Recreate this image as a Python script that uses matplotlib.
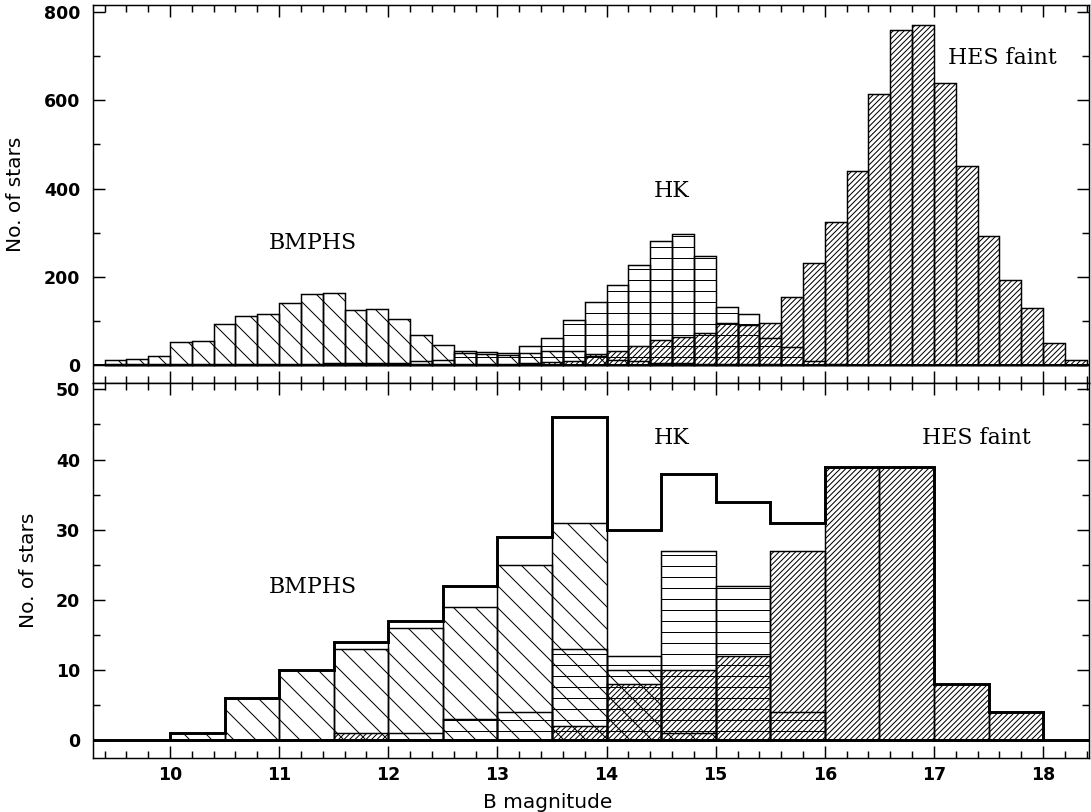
import numpy as np
import matplotlib
matplotlib.use('Agg')
import matplotlib.pyplot as plt
from matplotlib.ticker import MultipleLocator

# upper panel: 0.2 mag bins starting at B = 9.4
top_left = np.round(np.arange(9.4, 18.35, 0.2), 2)
top_bmphs = [11, 14, 21, 52, 55, 92, 110, 116, 141, 161, 164, 124, 127, 104, 67, 46,
             32, 25, 22, 28, 32, 32, 20, 12, 8, 5, 4, 3, 2, 1, 1,
             0, 0, 0, 0, 0, 0, 0, 0, 0, 0, 0, 0, 0, 0]
top_hk = [2, 2, 3, 2, 3, 2, 3, 3, 3, 3, 4, 4, 5, 5, 8, 12,
          26, 30, 28, 44, 60, 102, 142, 182, 227, 282, 297, 246, 132, 116, 60,
          40, 10, 2, 0, 0, 0, 0, 0, 0, 0, 0, 0, 0, 0]
top_hes = [0, 0, 0, 0, 0, 0, 0, 0, 0, 0, 0, 0, 0, 1, 1, 2,
           2, 3, 3, 4, 6, 8, 24, 32, 44, 57, 63, 72, 96, 90, 94,
           154, 232, 325, 439, 614, 759, 771, 640, 451, 292, 193, 130, 50, 11]

# lower panel: 0.5 mag bins
bot_left = [10.0, 10.5, 11.0, 11.5, 12.0, 12.5, 13.0, 13.5,
            14.0, 14.5, 15.0, 15.5, 16.0, 16.5, 17.0, 17.5]
bot_bmphs = [1, 6, 10, 13, 16, 19, 25, 31, 10, 1, 0, 0, 0, 0, 0, 0]
bot_hk = [0, 0, 0, 0, 1, 3, 4, 13, 12, 27, 22, 4, 0, 0, 0, 0]
bot_hes = [0, 0, 0, 1, 0, 0, 0, 2, 8, 10, 12, 27, 39, 39, 8, 4]
bot_total = [1, 6, 10, 14, 17, 22, 29, 46, 30, 38, 34, 31, 39, 39, 8, 4]

plt.rcParams['hatch.linewidth'] = 0.55
plt.rcParams['axes.linewidth'] = 0.8

DPI = 132
fig = plt.figure(figsize=(1091 / DPI, 812 / DPI), dpi=DPI)
ax1 = fig.add_axes([0.0852, 0.5283, 0.9129, 0.4655])
ax2 = fig.add_axes([0.0852, 0.0665, 0.9129, 0.4618])

bar_kw = dict(align='edge', fill=False, edgecolor='black', linewidth=0.8)
H_BM = '\\\\'
H_HK = '--'
H_HES = '////////'

# upper panel, histograms overlaid
ax1.bar(top_left, top_bmphs, width=0.2, hatch=H_BM, **bar_kw)
ax1.bar(top_left, top_hk, width=0.2, hatch=H_HK, **bar_kw)
ax1.bar(top_left, top_hes, width=0.2, hatch=H_HES, **bar_kw)
ax1.axhline(0, color='black', lw=1.1)

# lower panel
ax2.bar(bot_left, bot_bmphs, width=0.5, hatch=H_BM, **bar_kw)
ax2.bar(bot_left, bot_hk, width=0.5, hatch=H_HK, **bar_kw)
ax2.bar(bot_left, bot_hes, width=0.5, hatch=H_HES, **bar_kw)
edges = list(bot_left) + [bot_left[-1] + 0.5]
ax2.stairs(bot_total, edges, color='black', lw=1.6)
ax2.axhline(0, color='black', lw=1.6)

serif = dict(family='DejaVu Serif', size=12, ha='center', va='center')
ax1.text(11.31, 276, 'BMPHS', **serif)
ax1.text(14.6, 395, 'HK', **serif)
ax1.text(17.13, 696, 'HES faint', family='DejaVu Serif', size=12, ha='left', va='center')
ax2.text(11.31, 21.9, 'BMPHS', **serif)
ax2.text(14.6, 43.1, 'HK', **serif)
ax2.text(16.89, 43.1, 'HES faint', family='DejaVu Serif', size=12, ha='left', va='center')

for ax in (ax1, ax2):
    ax.set_xlim(9.294, 18.42)
    ax.xaxis.set_major_locator(MultipleLocator(1))
    ax.xaxis.set_minor_locator(MultipleLocator(0.2))
    ax.tick_params(which='both', direction='in', top=True, right=True,
                   width=0.8, labelsize=9.5)
    ax.tick_params(which='major', length=6.5)
    ax.tick_params(which='minor', length=3.8)
    ax.tick_params(axis='y', pad=7)
    ax.tick_params(axis='x', pad=4.5)
    for lab in ax.get_xticklabels() + ax.get_yticklabels():
        lab.set_fontweight('bold')

ax1.set_ylim(-41, 816)
ax1.yaxis.set_major_locator(MultipleLocator(200))
ax1.yaxis.set_minor_locator(MultipleLocator(100))
ax1.tick_params(labelbottom=False)
ax1.set_ylabel('No. of stars', fontsize=11, labelpad=10)

ax2.set_ylim(-2.5, 50.9)
ax2.yaxis.set_major_locator(MultipleLocator(10))
ax2.yaxis.set_minor_locator(MultipleLocator(5))
ax2.set_ylabel('No. of stars', fontsize=11, labelpad=10)

fig.text(548 / 1091, 0.012, 'B magnitude', fontsize=11, ha='center', va='center')

fig.savefig('out.png', dpi=DPI)
plt.close(fig)
